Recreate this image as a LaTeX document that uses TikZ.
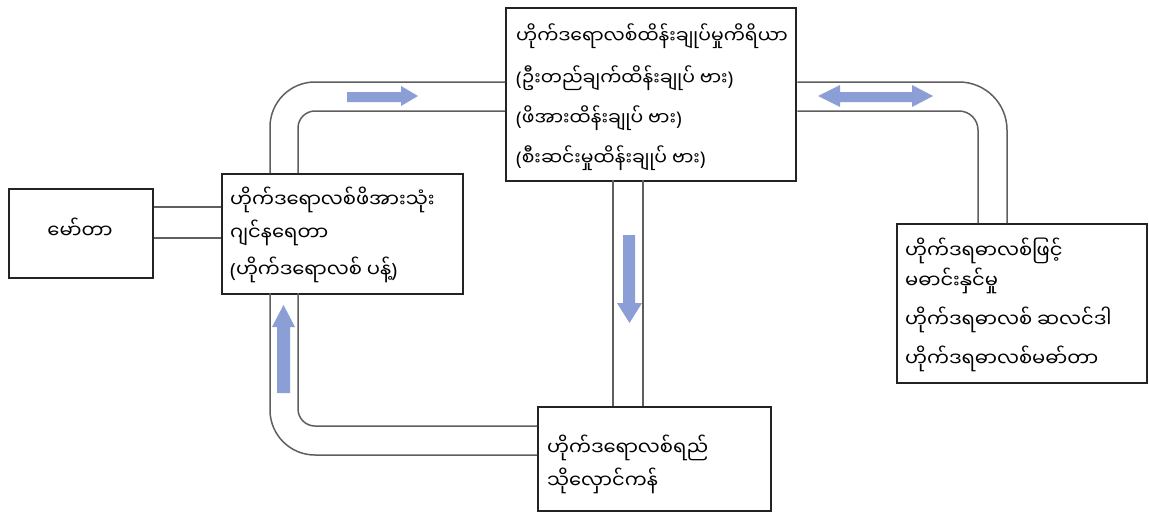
\documentclass[tikz,border=0pt]{standalone}
\usepackage{fontspec}
\newfontfamily\mya[Script=Myanmar]{Noto Sans Myanmar UI}
\newfontfamily\parfont{Noto Sans}
\newcommand\lpar{{\parfont(}}
\newcommand\rpar{{\parfont)}}
\definecolor{flowblue}{RGB}{140,158,214}
\definecolor{pipegray}{RGB}{95,95,95}
\definecolor{boxline}{RGB}{35,35,35}
\begin{document}
\begin{tikzpicture}[x=1pt,y=-1pt,
  box/.style={draw=boxline,line width=2.4pt,fill=white,minimum width=#1,inner sep=0pt,anchor=north west},
  txt/.style={font=\mya\fontsize{19.5}{22}\selectfont,anchor=base west,inner sep=0pt},
  txtsm/.style={font=\mya\fontsize{18.8}{22}\selectfont,anchor=base west,inner sep=0pt},
  pipe/.style={draw=pipegray,line width=1.5pt},
  flow/.style={fill=flowblue,draw=none}]
\useasboundingbox (0,0) rectangle (1149,514);
\fill[white] (0,0) rectangle (1149,514);
% pipe end points
\coordinate (p1o) at (270,173);
\coordinate (p1i) at (298,173);
\coordinate (p2o) at (1007,223);
\coordinate (p2i) at (978,223);
\coordinate (p3l) at (613,180);
\coordinate (p3r) at (643,180);
\coordinate (p4o) at (270,293);
\coordinate (p4i) at (298,293);
% boxes
\node[box=144pt,minimum height=89pt] (b1) at (8,188) {};
\node[box=241pt,minimum height=120pt] (b2) at (221,173) {};
\node[box=290pt,minimum height=173pt] (b3) at (505,7) {};
\node[box=250pt,minimum height=159pt] (b4) at (896,223) {};
\node[box=233pt,minimum height=104pt] (b5) at (537,406) {};
% connectors
\draw[pipe,rounded corners=45pt] (p1o) |- (b3.west |- 0,82);
\draw[pipe,rounded corners=17pt] (p1i) |- (b3.west |- 0,111);
\draw[pipe,rounded corners=48pt] (b3.east |- 0,82) -| (p2o);
\draw[pipe,rounded corners=19pt] (b3.east |- 0,111) -| (p2i);
\draw[pipe] (p3l) -- (p3l |- b5.north);
\draw[pipe] (p3r) -- (p3r |- b5.north);
\draw[pipe,rounded corners=45pt] (p4o) |- (b5.west |- 0,455);
\draw[pipe,rounded corners=17pt] (p4i) |- (b5.west |- 0,426);
\draw[pipe] (b1.east |- 0,207) -- (b2.west |- 0,207);
\draw[pipe] (b1.east |- 0,238) -- (b2.west |- 0,238);
% flow arrows
\fill[flow] (347,92) -- (401,92) -- (401,86) -- (418,96) -- (401,106) -- (401,102) -- (347,102) -- cycle;
\fill[flow] (818,96) -- (840,85) -- (840,92) -- (912,92) -- (912,85) -- (933,96) -- (912,107) -- (912,102) -- (840,102) -- (840,107) -- cycle;
\fill[flow] (623,235) -- (635,235) -- (635,303) -- (642,303) -- (629.5,323) -- (617,303) -- (623,303) -- cycle;
\fill[flow] (277,393) -- (290,393) -- (290,327) -- (295,327) -- (283.5,305) -- (272,327) -- (277,327) -- cycle;
% texts
\node[txt,anchor=base] (t1) at (80,238) {မော်တာ};
\node[txt] (t2a) at (230,207) {ဟိုက်ဒရောလစ်ဖိအားသုံး};
\node[txt] (t2b) at (230,240) {ဂျင်နရေတာ};
\node[txt] (t2c) at (230,277) {\lpar ဟိုက်ဒရောလစ် ပန့်\rpar};
\node[txtsm] (t3a) at (516,43) {ဟိုက်ဒရောလစ်ထိန်းချုပ်မှုကိရိယာ};
\node[txtsm] (t3b) at (516,85) {\lpar ဦးတည်ချက်ထိန်းချုပ် ဗား\rpar};
\node[txtsm] (t3c) at (516,125) {\lpar ဖိအားထိန်းချုပ် ဗား\rpar};
\node[txtsm] (t3d) at (516,165) {\lpar စီးဆင်းမှုထိန်းချုပ် ဗား\rpar};
\node[txt] (t4a) at (905,258) {ဟိုက်ဒရဓာလစ်ဖြင့်};
\node[txt] (t4b) at (905,288) {မဓာင်းနှင်မှု};
\node[txt] (t4c) at (905,327) {ဟိုက်ဒရဓာလစ် ဆလင်ဒါ};
\node[txt] (t4d) at (905,366) {ဟိုက်ဒရဓာလစ်မဓာ်တာ};
\node[txt] (t5a) at (547,455) {ဟိုက်ဒရောလစ်ရည်};
\node[txt] (t5b) at (547,488) {သိုလှောင်ကန်};
\end{tikzpicture}
\end{document}
